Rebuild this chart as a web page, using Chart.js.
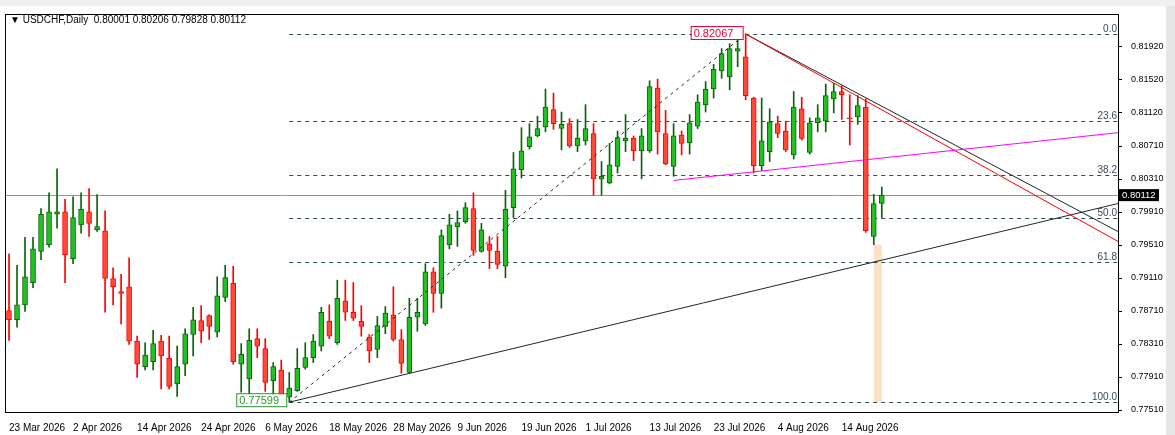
<!DOCTYPE html>
<html>
<head>
<meta charset="utf-8">
<script src="https://cdn.jsdelivr.net/npm/chart.js@4/dist/chart.umd.min.js"></script>
<style>
  html, body { margin: 0; padding: 0; background: #fff; }
  #wrap { width: 1175px; height: 435px; position: relative; }
</style>
</head>
<body>
<div id="wrap"><canvas id="chart"></canvas></div>
<script>
// candles (open, high, low, close)
const opens = [0.7871,0.7860,0.7878,0.7905,0.7943,0.7951,0.7988,0.7991,0.7934,0.7975,0.7991,0.7969,0.7968,0.7910,0.7894,0.7900,0.7834,0.7803,0.7809,0.7834,
  0.7813,0.7782,0.7806,0.7842,0.7859,0.7865,0.7845,0.7887,0.7904,0.7806,0.7788,0.7837,0.7825,0.7786,0.7799,0.7766,0.7774,0.7802,0.7814,0.7828,
  0.7858,0.7832,0.7883,0.7869,0.7858,0.7839,0.7824,0.7852,0.7866,0.7836,0.7796,0.7863,0.7855,0.7918,0.7892,0.7951,0.7973,0.7979,0.7995,0.7943,
  0.7952,0.7943,0.7925,0.7996,0.8042,0.8070,0.8083,0.8094,0.8115,0.8092,0.8098,0.8071,0.8077,0.8086,0.8031,0.8026,0.8046,0.8077,0.8080,0.8065,
  0.8065,0.8141,0.8086,0.8046,0.8084,0.8075,0.8095,0.8121,0.8140,0.8162,0.8155,0.8186,0.8179,0.8129,0.8047,0.8064,0.8098,0.8089,0.8060,0.8116,
  0.8063,0.8099,0.8101,0.8128,0.8137,0.8105,0.8106,0.8118,0.7961,0.8001];
const highs = [0.7940,0.7926,0.7960,0.7960,0.7995,0.8014,0.8043,0.8006,0.8009,0.8014,0.8019,0.8012,0.7992,0.7923,0.7915,0.7935,0.7840,0.7832,0.7847,0.7841,
  0.7840,0.7828,0.7849,0.7875,0.7877,0.7866,0.7912,0.7926,0.7925,0.7831,0.7849,0.7849,0.7837,0.7808,0.7811,0.7796,0.7825,0.7832,0.7842,0.7875,
  0.7878,0.7908,0.7908,0.7905,0.7877,0.7842,0.7864,0.7876,0.7900,0.7848,0.7886,0.7886,0.7928,0.7923,0.7969,0.7988,0.7992,0.8002,0.8014,0.7977,
  0.7961,0.7961,0.8017,0.8063,0.8093,0.8098,0.8107,0.8140,0.8135,0.8112,0.8104,0.8103,0.8121,0.8098,0.8052,0.8074,0.8089,0.8109,0.8083,0.8092,
  0.8150,0.8152,0.8114,0.8098,0.8089,0.8109,0.8133,0.8149,0.8170,0.8189,0.8195,0.8202,0.8207,0.8130,0.8129,0.8116,0.8107,0.8101,0.8137,0.8130,
  0.8105,0.8121,0.8146,0.8147,0.8144,0.8133,0.8132,0.8128,0.8012,0.8021];
const lows = [0.7835,0.7851,0.7870,0.7899,0.7933,0.7948,0.7971,0.7905,0.7928,0.7965,0.7961,0.7967,0.7869,0.7878,0.7855,0.7830,0.7790,0.7799,0.7799,0.7776,
  0.7776,0.7767,0.7792,0.7816,0.7832,0.7836,0.7839,0.7882,0.7806,0.7772,0.7769,0.7814,0.7773,0.7767,0.7762,0.7760,0.7773,0.7800,0.7808,0.7822,
  0.7837,0.7830,0.7859,0.7859,0.7840,0.7808,0.7814,0.7843,0.7834,0.7795,0.7795,0.7846,0.7853,0.7869,0.7874,0.7946,0.7949,0.7977,0.7938,0.7942,
  0.7922,0.7922,0.7911,0.7984,0.8032,0.8067,0.8082,0.8088,0.8091,0.8066,0.8069,0.8064,0.8072,0.8011,0.8011,0.8025,0.8038,0.8064,0.8053,0.8031,
  0.8063,0.8061,0.8048,0.8034,0.8060,0.8061,0.8092,0.8112,0.8129,0.8153,0.8139,0.8167,0.8127,0.8038,0.8041,0.8052,0.8081,0.8064,0.8055,0.8078,
  0.8061,0.8088,0.8088,0.8111,0.8103,0.8072,0.8097,0.7966,0.7951,0.7984];
const closes = [0.7860,0.7878,0.7912,0.7946,0.7988,0.7991,0.7991,0.7939,0.7984,0.7994,0.7977,0.7973,0.7910,0.7900,0.7892,0.7834,0.7806,0.7817,0.7831,0.7816,
  0.7779,0.7803,0.7843,0.7860,0.7846,0.7852,0.7889,0.7911,0.7809,0.7818,0.7835,0.7828,0.7784,0.7803,0.7766,0.7777,0.7801,0.7814,0.7834,0.7869,
  0.7840,0.7886,0.7869,0.7862,0.7852,0.7822,0.7853,0.7868,0.7836,0.7807,0.7863,0.7869,0.7918,0.7892,0.7962,0.7975,0.7978,0.7996,0.7944,0.7969,
  0.7944,0.7927,0.7994,0.8043,0.8065,0.8082,0.8092,0.8118,0.8098,0.8097,0.8071,0.8080,0.8092,0.8031,0.8034,0.8048,0.8081,0.8080,0.8065,0.8083,
  0.8143,0.8088,0.8049,0.8083,0.8074,0.8099,0.8124,0.8140,0.8164,0.8183,0.8189,0.8189,0.8132,0.8047,0.8077,0.8100,0.8086,0.8066,0.8118,0.8080,
  0.8099,0.8105,0.8132,0.8137,0.8133,0.8104,0.8120,0.7968,0.8001,0.80112];

const slotCount = 139;
const dateLabels = ['23 Mar 2026','2 Apr 2026','14 Apr 2026','24 Apr 2026','6 May 2026','18 May 2026','28 May 2026',
  '9 Jun 2026','19 Jun 2026','1 Jul 2026','13 Jul 2026','23 Jul 2026','4 Aug 2026','14 Aug 2026'];
const dateEvery = 8;
const priceTicks = [0.81920,0.81520,0.81120,0.80710,0.80310,0.79910,0.79510,0.79110,0.78710,0.78310,0.77910,0.77510];

// drawn objects on the chart
const fibLevels = [0.82067, 0.81012, 0.80360, 0.79833, 0.79306, 0.77599];
const fibNames = ['0.0','23.6','38.2','50.0','61.8','100.0'];
const fibStart = 35;
const lastPrice = 0.80112;
// [x1, y1, x2, y2, colour, dashed]
const trendLines = [
  [35, 0.77599, 138.5, 0.8001, '#1a2a2a', false],
  [35, 0.77599, 92, 0.82067, '#1a2a2a', true],
  [92, 0.82067, 138.5, 0.7967, '#1a2a2a', false],
  [92, 0.82067, 138.5, 0.7955, '#ff0000', false],
  [83, 0.8029, 138.5, 0.8087, '#ff00ff', false]
];
const zoneBox = [108, 109, 0.7951, 0.7760];

const labels = [];
for (let i = 0; i < slotCount; i++) labels.push(i);
const bodies = opens.map((o, i) => [Math.min(o, closes[i]), Math.max(o, closes[i])]);
const wicks = lows.map((l, i) => [l, highs[i]]);
const up = opens.map((o, i) => closes[i] >= o);

const overlays = {
  id: 'overlays',
  beforeDatasetsDraw(chart) {
    const { ctx, chartArea: a, scales: { x, y } } = chart;
    ctx.save();
    ctx.beginPath(); ctx.rect(a.left, a.top, a.right - a.left, a.bottom - a.top); ctx.clip();
    // peach zone
    const zx1 = x.getPixelForValue(zoneBox[0]), zx2 = x.getPixelForValue(zoneBox[1]);
    ctx.fillStyle = '#fbe0c4';
    ctx.fillRect(zx1, y.getPixelForValue(zoneBox[2]), zx2 - zx1, y.getPixelForValue(zoneBox[3]) - y.getPixelForValue(zoneBox[2]));
    // fib levels
    ctx.strokeStyle = '#2f4f4f'; ctx.lineWidth = 1; ctx.setLineDash([4, 4]);
    ctx.font = '10px "Liberation Sans"'; ctx.fillStyle = '#3a4a5a'; ctx.textAlign = 'right';
    const fx = x.getPixelForValue(fibStart);
    fibLevels.forEach((v, i) => {
      const py = Math.round(y.getPixelForValue(v)) + 0.5;
      ctx.beginPath(); ctx.moveTo(fx, py); ctx.lineTo(a.right, py); ctx.stroke();
      ctx.fillText(fibNames[i], a.right - 1, py - 3);
    });
    ctx.setLineDash([]);
    // current price line
    const lp = Math.round(y.getPixelForValue(lastPrice)) + 0.5;
    ctx.strokeStyle = '#8a97a6';
    ctx.beginPath(); ctx.moveTo(a.left, lp); ctx.lineTo(a.right, lp); ctx.stroke();
    ctx.restore();
  },
  afterDatasetsDraw(chart) {
    const { ctx, chartArea: a, scales: { x, y } } = chart;
    ctx.save();
    ctx.beginPath(); ctx.rect(a.left, a.top, a.right - a.left, a.bottom - a.top); ctx.clip();
    trendLines.forEach(t => {
      ctx.strokeStyle = t[4]; ctx.lineWidth = 1;
      ctx.setLineDash(t[5] ? [3, 4] : []);
      ctx.beginPath();
      ctx.moveTo(x.getPixelForValue(t[0]), y.getPixelForValue(t[1]));
      ctx.lineTo(x.getPixelForValue(t[2]), y.getPixelForValue(t[3]));
      ctx.stroke();
    });
    ctx.setLineDash([]);
    ctx.restore();
    ctx.save();
    // high / low tags
    ctx.font = '11px "Liberation Sans"'; ctx.textAlign = 'left'; ctx.textBaseline = 'middle';
    const hy = y.getPixelForValue(fibLevels[0]), hx = x.getPixelForValue(92);
    ctx.fillStyle = '#fff'; ctx.fillRect(hx - 54, hy - 7, 52, 13);
    ctx.strokeStyle = '#e8003c'; ctx.strokeRect(hx - 54.5, hy - 7.5, 52, 13);
    ctx.fillStyle = '#e8003c'; ctx.fillText(String(fibLevels[0]), hx - 52, hy);
    const ly = y.getPixelForValue(fibLevels[5]) - 2, lx = x.getPixelForValue(35);
    ctx.fillStyle = '#fff'; ctx.fillRect(lx - 52, ly - 6, 50, 13);
    ctx.strokeStyle = '#2a9a2a'; ctx.strokeRect(lx - 52.5, ly - 6.5, 50, 13);
    ctx.fillStyle = '#2a9a2a'; ctx.fillText(String(fibLevels[5]), lx - 50, ly + 1);
    // frame + axis tick marks
    ctx.strokeStyle = '#000';
    ctx.strokeRect(Math.round(a.left) + 0.5, Math.round(a.top) + 0.5, Math.round(a.right - a.left), Math.round(a.bottom - a.top));
    priceTicks.forEach(v => {
      const py = Math.round(y.getPixelForValue(v)) + 0.5;
      ctx.beginPath(); ctx.moveTo(a.right, py); ctx.lineTo(a.right + 4, py); ctx.stroke();
    });
    // last price tag
    const lp = y.getPixelForValue(lastPrice);
    ctx.fillStyle = '#000'; ctx.fillRect(a.right + 1, lp - 6, 40, 12);
    ctx.fillStyle = '#fff'; ctx.font = '9.5px "Liberation Sans"'; ctx.fillText('0.80112', a.right + 4, lp);
    // title, toolbar strip, right scroll strip
    ctx.fillStyle = '#f0f0f0'; ctx.fillRect(0, 0, 1175, 6);
    ctx.fillStyle = '#e6e6e6'; ctx.fillRect(1166, 6, 9, 429);
    ctx.fillStyle = '#000'; ctx.font = '10px "Liberation Sans"';
    ctx.fillText('\u25BC USDCHF,Daily  0.80001 0.80206 0.79828 0.80112', 10, 20);
    ctx.restore();
  }
};

new Chart(document.getElementById('chart'), {
  type: 'bar',
  data: {
    labels: labels,
    datasets: [
      {
        data: bodies, grouped: false, barThickness: 5, order: 1,
        backgroundColor: up.map(u => u ? '#22c022' : '#ff4a3a'),
        borderColor: up.map(u => u ? '#086408' : '#ff0000'),
        borderWidth: 1, borderSkipped: false
      },
      {
        data: wicks, grouped: false, barThickness: 1, order: 2,
        backgroundColor: up.map(u => u ? '#086408' : '#ff0000')
      }
    ]
  },
  options: {
    responsive: true, maintainAspectRatio: false, animation: false,
    layout: { padding: { left: 5, top: 14, right: 0, bottom: 0 } },
    plugins: { legend: { display: false }, tooltip: { enabled: false } },
    scales: {
      x: {
        grid: { display: false }, border: { display: false },
        ticks: {
          autoSkip: false, maxRotation: 0, align: 'start', padding: 2,
          color: '#000', font: { family: 'Liberation Sans', size: 10 },
          callback: (v, i) => (i % dateEvery === 0 && i / dateEvery < dateLabels.length) ? dateLabels[i / dateEvery] : ''
        },
        afterFit: s => { s.height = 23; }
      },
      y: {
        position: 'right', min: 0.7748, max: 0.8231,
        grid: { display: false }, border: { display: false },
        afterBuildTicks: s => { s.ticks = priceTicks.map(v => ({ value: v })); },
        ticks: {
          color: '#000', font: { family: 'Liberation Sans', size: 9 }, padding: 5,
          callback: v => v.toFixed(5)
        },
        afterFit: s => { s.width = 57; }
      }
    }
  },
  plugins: [overlays]
});
</script>
</body>
</html>
